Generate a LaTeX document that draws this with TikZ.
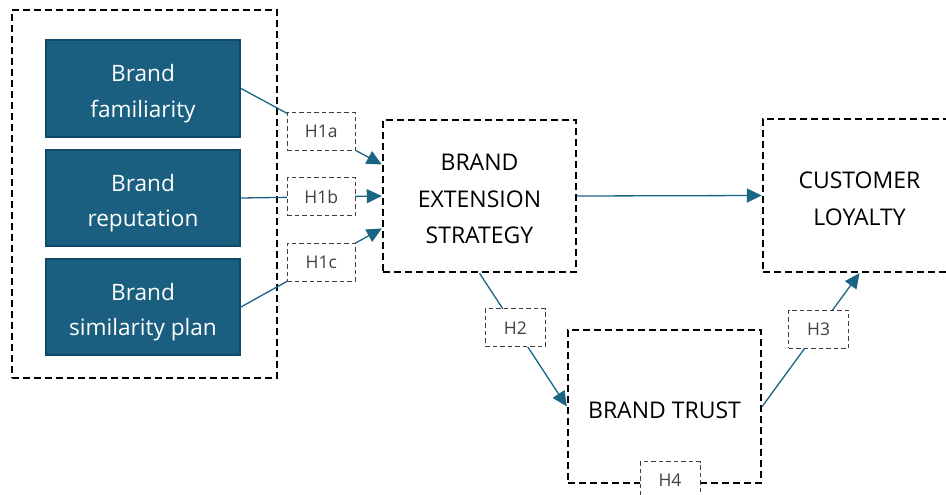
\documentclass[tikz,border=0pt]{standalone}
\usepackage{fontspec}
\setmainfont{Open Sans}
\usetikzlibrary{arrows.meta,calc}
\definecolor{tealfill}{HTML}{1A5F7F}
\definecolor{tealdraw}{HTML}{0F4B68}
\definecolor{arrowc}{HTML}{1A6484}
\definecolor{hgray}{HTML}{404040}
\tikzset{
  bigdash/.style={draw=black, line width=2.4pt, dash pattern=on 7pt off 4pt, fill=white},
  bigtext/.style={align=center, font=\fontsize{23}{36.5}\selectfont, yshift=-3pt},
  tealbox/.style={draw=tealdraw, line width=2pt, fill=tealfill, minimum width=194pt, minimum height=96pt},
  tealtext/.style={text=white, align=center, font=\fontsize{22.6}{35.5}\selectfont, yshift=-5pt},
  hbox/.style={draw=hgray, line width=1pt, dash pattern=on 4.5pt off 3pt, fill=white, text=hgray, minimum height=38pt, inner sep=0pt, font=\fontsize{17.5}{19}\selectfont},
  conn/.style={draw=arrowc, line width=1.3pt},
  arr/.style={conn, -{Triangle[length=15pt,width=14pt]}},
}
\begin{document}
\begin{tikzpicture}[x=1pt,y=-1pt]
\useasboundingbox (0,0) rectangle (946,495);
\node[bigdash, minimum width=265pt, minimum height=368pt] (outer) at (144.5,194) {};
\node[tealbox, label={[tealtext]center:Brand\\familiarity}] (bf) at (143,88.5) {};
\node[tealbox, label={[tealtext]center:Brand\\reputation}] (br) at (143,198) {};
\node[tealbox, label={[tealtext]center:Brand\\similarity plan}] (bs) at (143,307) {};
\node[bigdash, minimum width=193pt, minimum height=152pt, label={[bigtext]center:BRAND\\EXTENSION\\STRATEGY}] (bes) at (479.5,196) {};
\node[bigdash, minimum width=193pt, minimum height=153pt, label={[bigtext, yshift=-0.5pt]center:CUSTOMER\\LOYALTY}] (cl) at (859.5,195.5) {};
\node[bigdash, minimum width=193pt, minimum height=153pt, label={[bigtext, yshift=-0.5pt]center:BRAND TRUST}] (bt) at (664.5,406.5) {};
\coordinate (besA) at ($(bes.north west)!0.296!(bes.south west)$);
\coordinate (besC) at ($(bes.north west)!0.71!(bes.south west)$);
\draw[arr] (bf.east) -- node[hbox, pos=0.57, minimum width=68pt] (h1a) {H1a} (besA);
\draw[arr] (br.east) -- node[hbox, pos=0.57, minimum width=68pt] (h1b) {H1b} (bes.west);
\draw[arr] (bs.east) -- node[hbox, pos=0.57, minimum width=68pt] (h1c) {H1c} (besC);
\draw[arr] (bes.east) -- (cl.west);
\draw[arr] (bes.south) -- node[hbox, pos=0.41, minimum width=60pt] (h2) {H2} (bt.west);
\draw[arr] (bt.east) -- node[hbox, pos=0.58, minimum width=60pt] (h3) {H3} (cl.south);
\node[hbox, minimum width=60pt, anchor=north] (h4) at (670,461) {\raisebox{-6pt}{H4}};
\end{tikzpicture}
\end{document}
